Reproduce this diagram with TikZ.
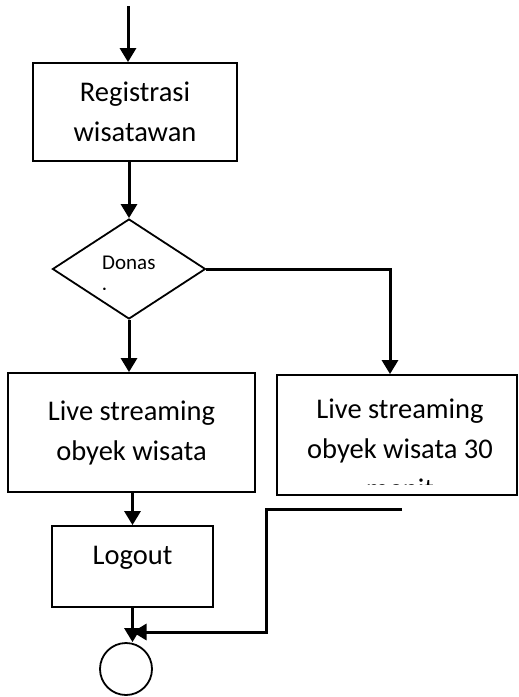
\documentclass[tikz,border=0pt]{standalone}
\usepackage{fontspec}
\setmainfont{Carlito}
\usetikzlibrary{arrows.meta,shapes.geometric}
\begin{document}
\begin{tikzpicture}[x=1pt,y=-1pt]
        \tikzstyle{process}=[draw, rectangle, line width=1.8pt, align=center,
            inner sep=0pt, font=\fontsize{28.5}{40}\selectfont]
        \tikzstyle{flow}=[line width=3pt, -{Triangle[length=14pt,width=16pt]}]
        \useasboundingbox (0,0) rectangle (519,697);

        \coordinate (start) at (128,6);
        \node[process, minimum width=204pt, minimum height=98pt] (reg) at (135,112) {Registrasi\\wisatawan};
        \node[draw, diamond, line width=1.8pt, minimum width=153pt,
            minimum height=100pt, inner sep=0pt] (don) at (129,269) {};
        \begin{scope}
            \clip (95,245) rectangle (165,289);
            \node[anchor=north west, align=left, inner sep=0pt,
                font=\fontsize{21}{33}\selectfont] (dontext) at (102,256) {Donas\\i};
        \end{scope}

        \node[process, minimum width=247pt, minimum height=119pt] (lbox) at (131.5,432.5) {Live streaming\\obyek wisata};
        \node[process, minimum width=240pt, minimum height=120pt] (rbox) at (397,435) {};
        \begin{scope}
            \clip (280,378) rectangle (514,484.5);
            \node[anchor=north, align=center, inner sep=0pt,
                font=\fontsize{28.5}{40}\selectfont] (rtext) at (400,399) {Live streaming\\obyek wisata 30\\menit};
        \end{scope}

        \node[process, minimum width=161pt, minimum height=81pt, text depth=22pt] (logout) at (132.5,566.5) {Logout};
        \node[draw, circle, line width=1.8pt, minimum size=52pt, inner sep=0pt] (end) at (126,669) {};

        \coordinate (ret) at (402,509);
        \coordinate (retdown) at (266,632);

        \draw[flow] (start) -- (start |- reg.north);
        \draw[flow] (reg.south -| don.north) -- (don.north);
        \draw[flow] (don.south) -- (don.south |- lbox.north);
        \draw[flow] (don.east) -| ([xshift=-7pt]rbox.north);
        \draw[flow] (lbox.south -| logout.north) -- (logout.north);
        \draw[flow] (logout.south) -- (logout.south |- end.north);
        \draw[flow] (ret) -| (retdown) -- (logout.south |- retdown);

    \end{tikzpicture}
\end{document}
